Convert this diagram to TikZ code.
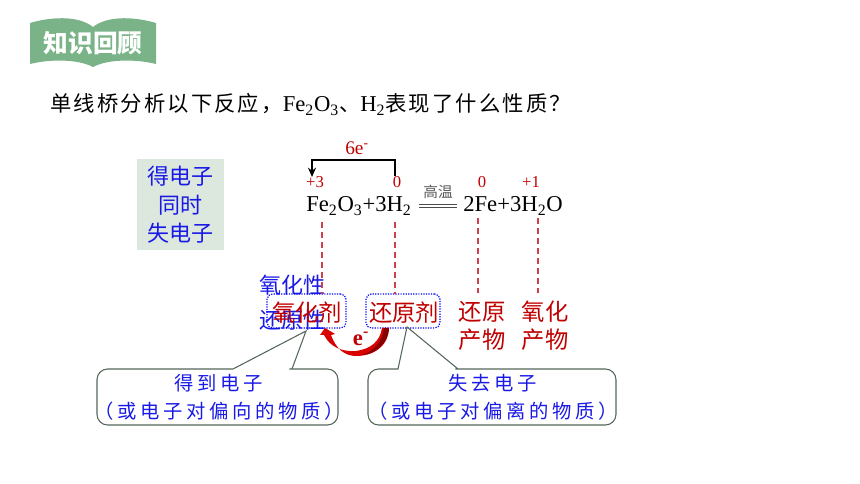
\documentclass[tikz,border=0pt]{standalone}
\usepackage{fontspec}
\setmainfont{Liberation Serif}
\newfontfamily\cjk{Noto Sans CJK SC}
\newfontfamily\cjkwide[LetterSpace=10]{Noto Sans CJK SC}
\newfontfamily\cjknote[LetterSpace=19]{Noto Sans CJK SC}
\usetikzlibrary{arrows.meta, positioning, calc}
\definecolor{bookgreen}{HTML}{7AB387}
\definecolor{panelgreen}{HTML}{DCE7DE}
\definecolor{chemred}{HTML}{C00000}
\definecolor{dashred}{HTML}{D0404A}
\definecolor{calloutgray}{HTML}{55665A}
\definecolor{blueink}{HTML}{1A1AE6}
\tikzset{
  chem/.style={font=\fontsize{17}{18}\selectfont, inner sep=0pt, anchor=base west},
  charge/.style={font=\fontsize{12.5}{13}\selectfont, text=chemred, inner sep=0pt},
  blueword/.style={font=\cjk\fontsize{16.5}{18}\selectfont, text=blueink, inner sep=0pt},
  redword/.style={font=\cjk\fontsize{17.5}{21}\selectfont, text=chemred, inner sep=0pt, align=center},
  noteword/.style={font=\cjknote\fontsize{14.5}{21}\selectfont, text=blueink, inner sep=0pt, align=center},
  dotbox/.style={draw=blue, densely dotted, line width=0.9pt, rounded corners=4pt, inner sep=0pt},
  dashline/.style={dashred, dash pattern=on 4.5pt off 3pt, line width=1pt},
  callout/.style={draw=calloutgray, line width=0.8pt, fill=white}
}
\begin{document}
\begin{tikzpicture}[x=0.75pt, y=-0.75pt]
  \useasboundingbox (0,0) rectangle (860,484);
  % Title book
  \fill[bookgreen] (30,23) .. controls (50,17) and (78,15) .. (93,27) .. controls (108,15) and (136,17) .. (156,23)
    -- (156,64) .. controls (136,59) and (108,59) .. (93,67) .. controls (78,59) and (50,59) .. (30,64) -- cycle;
  \node[font=\cjk\bfseries\fontsize{18.5}{20}\selectfont, text=white, inner sep=0pt] (booktitle) at (93,43) {知识回顾};
  % Question
  \node[font=\cjkwide\fontsize{16}{18}\selectfont, inner sep=0pt, anchor=base west] (question) at (50,112)
    {单线桥分析以下反应，{\rmfamily\fontsize{17}{18}\selectfont Fe$_{\mathrm{2}}$O$_{\mathrm{3}}$}、{\rmfamily\fontsize{17}{18}\selectfont H$_{\mathrm{2}}$}表现了什么性质？};
  % Side panel
  \node[fill=panelgreen, minimum width=65.25pt, minimum height=68.25pt, inner sep=0pt] (panel) at (180.5,204.5) {};
  \node[blueword] (panela) at (180.5,176) {得电子};
  \node[blueword] (panelb) at (180.5,205) {同时};
  \node[blueword] (panelc) at (180.5,233) {失电子};
  % Equation
  \node[chem] (left) at (306,212) {Fe$_{\mathrm{2}}$O$_{\mathrm{3}}$+3H$_{\mathrm{2}}$};
  \node[chem] (right) at (463,212) {2Fe+3H$_{\mathrm{2}}$O};
  \node[font=\cjk\fontsize{11}{12}\selectfont, text=black!65, inner sep=0pt] (heat) at (438,192) {高温};
  \draw[black!70, line width=0.7pt] (419,204) -- (457,204) (419,207) -- (457,207);
  % Charges
  \node[charge] (cfe) at (315,182) {+3};
  \node[charge] (ch) at (397,182) {0};
  \node[charge] (cfetwo) at (482,182) {0};
  \node[charge] (cwater) at (531,182) {+1};
  % Electron bridge
  \coordinate (bridgea) at (395,176);
  \coordinate (bridgeb) at (312,177);
  \draw[-{Stealth[length=7pt,width=6pt]}, line width=1.1pt] (bridgea) -- (395,160) -- (312,160) -- (bridgeb);
  \node[font=\fontsize{14.5}{15}\selectfont, text=chemred, inner sep=0pt] (transfer) at (357,148) {6e\textsuperscript{-}};
  % Role words
  \node[blueword] (oxprop) at (292,285) {氧化性};
  \node[blueword] (redprop) at (292,320) {还原性};
  \node[dotbox, minimum width=59.25pt, minimum height=25.5pt] (oxbox) at (306.5,311) {};
  \node[dotbox, minimum width=55.5pt, minimum height=25.5pt] (redbox) at (403,311) {};
  \node[redword] (oxword) at (307,313) {氧化剂};
  \node[redword] (redword) at (404,313) {还原剂};
  \node[redword] (prodred) at (482,326) {还原\\产物};
  \node[redword] (prodox) at (545,326) {氧化\\产物};
  % Dashed links
  \draw[dashline] (322,222) -- (322,294);
  \draw[dashline] (395,222) -- (395,294);
  \draw[dashline] (478,218) -- (478,293);
  \draw[dashline] (538,218) -- (538,293);
  % Callouts
  \draw[callout] (233,369) -- (225,369) [rounded corners=8pt] -- (97,369) -- (97,425) -- (338,425) -- (338,369) -- (300,369) [sharp corners] -- (292,369) -- (306,331) -- cycle;
  \draw[callout] (398,369) -- (390,369) [rounded corners=8pt] -- (368,369) -- (368,425) -- (616,425) -- (616,369) -- (466,369) [sharp corners] -- (458,369) -- (407,327) -- cycle;
  \node[noteword] (gain) at (219,397) {得到电子\\（或电子对偏向的物质）};
  \node[noteword] (lose) at (493,397) {失去电子\\（或电子对偏离的物质）};
  % Curved transfer arrow
  \fill[red!85!black] (389,328) .. controls (388,348) and (372,356) .. (356,356)
    .. controls (345,356) and (336,349) .. (331,335) -- (335,334) -- (325,328) -- (320,335) -- (324,335)
    .. controls (330,347) and (342,352) .. (356,351) .. controls (370,349) and (380,342) .. (382,328) -- cycle;
  \fill[chemred!70!black] (389,328) .. controls (388,345) and (374,354) .. (362,355)
    .. controls (374,351) and (382,342) .. (384,328) -- cycle;
  \node[font=\bfseries\fontsize{17}{18}\selectfont, text=chemred, inner sep=0pt] (electron) at (361,339) {e\textsuperscript{-}};
\end{tikzpicture}
\end{document}
